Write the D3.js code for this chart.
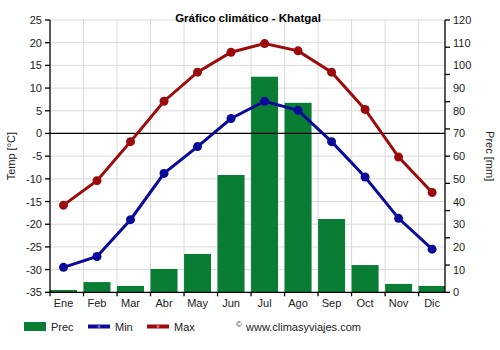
<!DOCTYPE html>
<html>
<head>
<meta charset="utf-8">
<script src="https://cdn.jsdelivr.net/npm/d3@7"></script>
<style>
  html, body { margin: 0; padding: 0; background: #fff; }
  svg { display: block; font-family: "Liberation Sans", Arial, sans-serif; }
</style>
</head>
<body>
<svg id="chart" width="500" height="350"></svg>
<script>
// Monthly climate data for Khatgal
const months = ["Ene", "Feb", "Mar", "Abr", "May", "Jun", "Jul", "Ago", "Sep", "Oct", "Nov", "Dic"];
const precip = [1, 4.5, 2.8, 10.3, 16.9, 51.7, 95, 83.5, 32.3, 12, 3.7, 2.8];
const tempMin = [-29.5, -27.1, -19.0, -8.8, -2.9, 3.3, 7.1, 5.1, -1.8, -9.6, -18.7, -25.5];
const tempMax = [-15.8, -10.4, -1.8, 7.1, 13.5, 17.9, 19.8, 18.2, 13.5, 5.3, -5.2, -13.0];
const tempTicks = [25, 20, 15, 10, 5, 0, -5, -10, -15, -20, -25, -30, -35];
const precTicks = [0, 10, 20, 30, 40, 50, 60, 70, 80, 90, 100, 110, 120];

const colPrec = "#087d33", colMin = "#0a0a9a", colMax = "#9c0b0b";
const plotL = 50, plotR = 445, plotT = 20, plotB = 292.3;
const bandStep = 33.51, barW = 27;

const svg = d3.select("#chart");

const x = d3.scaleBand().domain(months).range([plotL, plotL + bandStep * 12]).padding(0);
const yT = d3.scaleLinear().domain([-35, 25]).range([plotB, plotT]);
const yP = d3.scaleLinear().domain([0, 120]).range([plotB, plotT]);

svg.append("defs").append("clipPath").attr("id", "plotClip")
  .append("rect").attr("x", plotL).attr("y", plotT).attr("width", plotR - plotL).attr("height", plotB - plotT);

// grid
const grid = svg.append("g");
grid.selectAll("line.h").data(tempTicks).join("line")
  .attr("x1", plotL).attr("x2", plotR)
  .attr("y1", d => yT(d)).attr("y2", d => yT(d))
  .attr("stroke", "#dadada").attr("stroke-width", 1);
grid.selectAll("line.v").data(months.slice(1)).join("line")
  .attr("x1", d => x(d)).attr("x2", d => x(d))
  .attr("y1", plotT).attr("y2", plotB)
  .attr("stroke", "#dadada").attr("stroke-width", 1);

// precipitation bars
svg.append("g").attr("clip-path", "url(#plotClip)")
  .selectAll("rect").data(precip).join("rect")
  .attr("x", (d, i) => x(months[i]))
  .attr("width", barW)
  .attr("y", d => yP(d))
  .attr("height", d => plotB - yP(d))
  .attr("fill", colPrec);

// zero line
svg.append("line").attr("x1", plotL).attr("x2", plotR)
  .attr("y1", yT(0)).attr("y2", yT(0))
  .attr("stroke", "#000").attr("stroke-width", 1.3);

// axes
const axisColor = "#000", labelColor = "#222";
const ax = svg.append("g").attr("stroke", axisColor).attr("stroke-width", 1.3);
ax.append("line").attr("x1", plotL).attr("x2", plotL).attr("y1", plotT).attr("y2", plotB + 0.5);
ax.append("line").attr("x1", plotR).attr("x2", plotR).attr("y1", plotT).attr("y2", plotB + 0.5);
ax.append("line").attr("x1", plotL).attr("x2", plotR).attr("y1", plotB).attr("y2", plotB);

// left ticks
ax.selectAll("line.lt").data(tempTicks).join("line")
  .attr("x1", plotL - 5).attr("x2", plotL)
  .attr("y1", d => yT(d)).attr("y2", d => yT(d));
svg.append("g").selectAll("text").data(tempTicks).join("text")
  .attr("x", plotL - 8).attr("y", d => yT(d) + 4)
  .attr("text-anchor", "end").attr("font-size", 11).attr("fill", labelColor)
  .text(d => d);

// right ticks (tick marks split the axis into ten equal parts)
const rightMarks = d3.range(0, 11).map(i => 120 * i / 10);
ax.selectAll("line.rt").data(rightMarks).join("line")
  .attr("x1", plotR).attr("x2", plotR + 5)
  .attr("y1", d => yP(d)).attr("y2", d => yP(d));
svg.append("g").selectAll("text").data(precTicks).join("text")
  .attr("x", plotR + 8).attr("y", d => yP(d) + 4)
  .attr("text-anchor", "start").attr("font-size", 11).attr("fill", labelColor)
  .text(d => d);

// bottom ticks and month labels
ax.selectAll("line.bt").data(months).join("line")
  .attr("x1", d => x(d)).attr("x2", d => x(d))
  .attr("y1", plotB).attr("y2", plotB + 4);
svg.append("g").selectAll("text").data(months).join("text")
  .attr("x", d => x(d) + barW / 2).attr("y", 307)
  .attr("text-anchor", "middle").attr("font-size", 11).attr("fill", labelColor)
  .text(d => d);

// temperature lines
function drawSeries(vals, color) {
  const line = d3.line().x((d, i) => x(months[i]) + barW / 2).y(d => yT(d));
  svg.append("path").datum(vals).attr("d", line)
    .attr("fill", "none").attr("stroke", color).attr("stroke-width", 3);
  svg.append("g").selectAll("circle").data(vals).join("circle")
    .attr("cx", (d, i) => x(months[i]) + barW / 2).attr("cy", d => yT(d))
    .attr("r", 4.5).attr("fill", color);
}
drawSeries(tempMax, colMax);
drawSeries(tempMin, colMin);

// title
svg.append("text").attr("x", 248).attr("y", 22)
  .attr("text-anchor", "middle").attr("font-size", 11.5).attr("font-weight", "bold")
  .attr("fill", "#000").text("Gráfico climático - Khatgal");

// axis titles
svg.append("text").attr("transform", `translate(15, ${(plotT + plotB) / 2}) rotate(-90)`)
  .attr("text-anchor", "middle").attr("font-size", 11).attr("fill", labelColor)
  .text("Temp [°C]");
svg.append("text").attr("transform", `translate(486, ${(plotT + plotB) / 2}) rotate(90)`)
  .attr("text-anchor", "middle").attr("font-size", 11).attr("fill", labelColor)
  .text("Prec [mm]");

// legend
const lg = svg.append("g");
lg.append("rect").attr("x", 24).attr("y", 322).attr("width", 22).attr("height", 9).attr("fill", colPrec);
lg.append("text").attr("x", 51).attr("y", 331).attr("font-size", 11).attr("fill", labelColor).text("Prec");
[[88, colMin, "Min", "#6a6ad0"], [147, colMax, "Max", "#d06a6a"]].forEach(([lx, c, t, dot]) => {
  lg.append("line").attr("x1", lx).attr("x2", lx + 22).attr("y1", 326.5).attr("y2", 326.5)
    .attr("stroke", c).attr("stroke-width", 4);
  lg.append("circle").attr("cx", lx + 11).attr("cy", 326.5).attr("r", 1.5).attr("fill", dot);
  lg.append("text").attr("x", lx + 27).attr("y", 331).attr("font-size", 11).attr("fill", labelColor).text(t);
});
lg.append("text").attr("x", 236).attr("y", 327).attr("font-size", 8).attr("fill", labelColor).text("©");
lg.append("text").attr("x", 246).attr("y", 331).attr("font-size", 11).attr("fill", labelColor).text("www.climasyviajes.com");
</script>
</body>
</html>
